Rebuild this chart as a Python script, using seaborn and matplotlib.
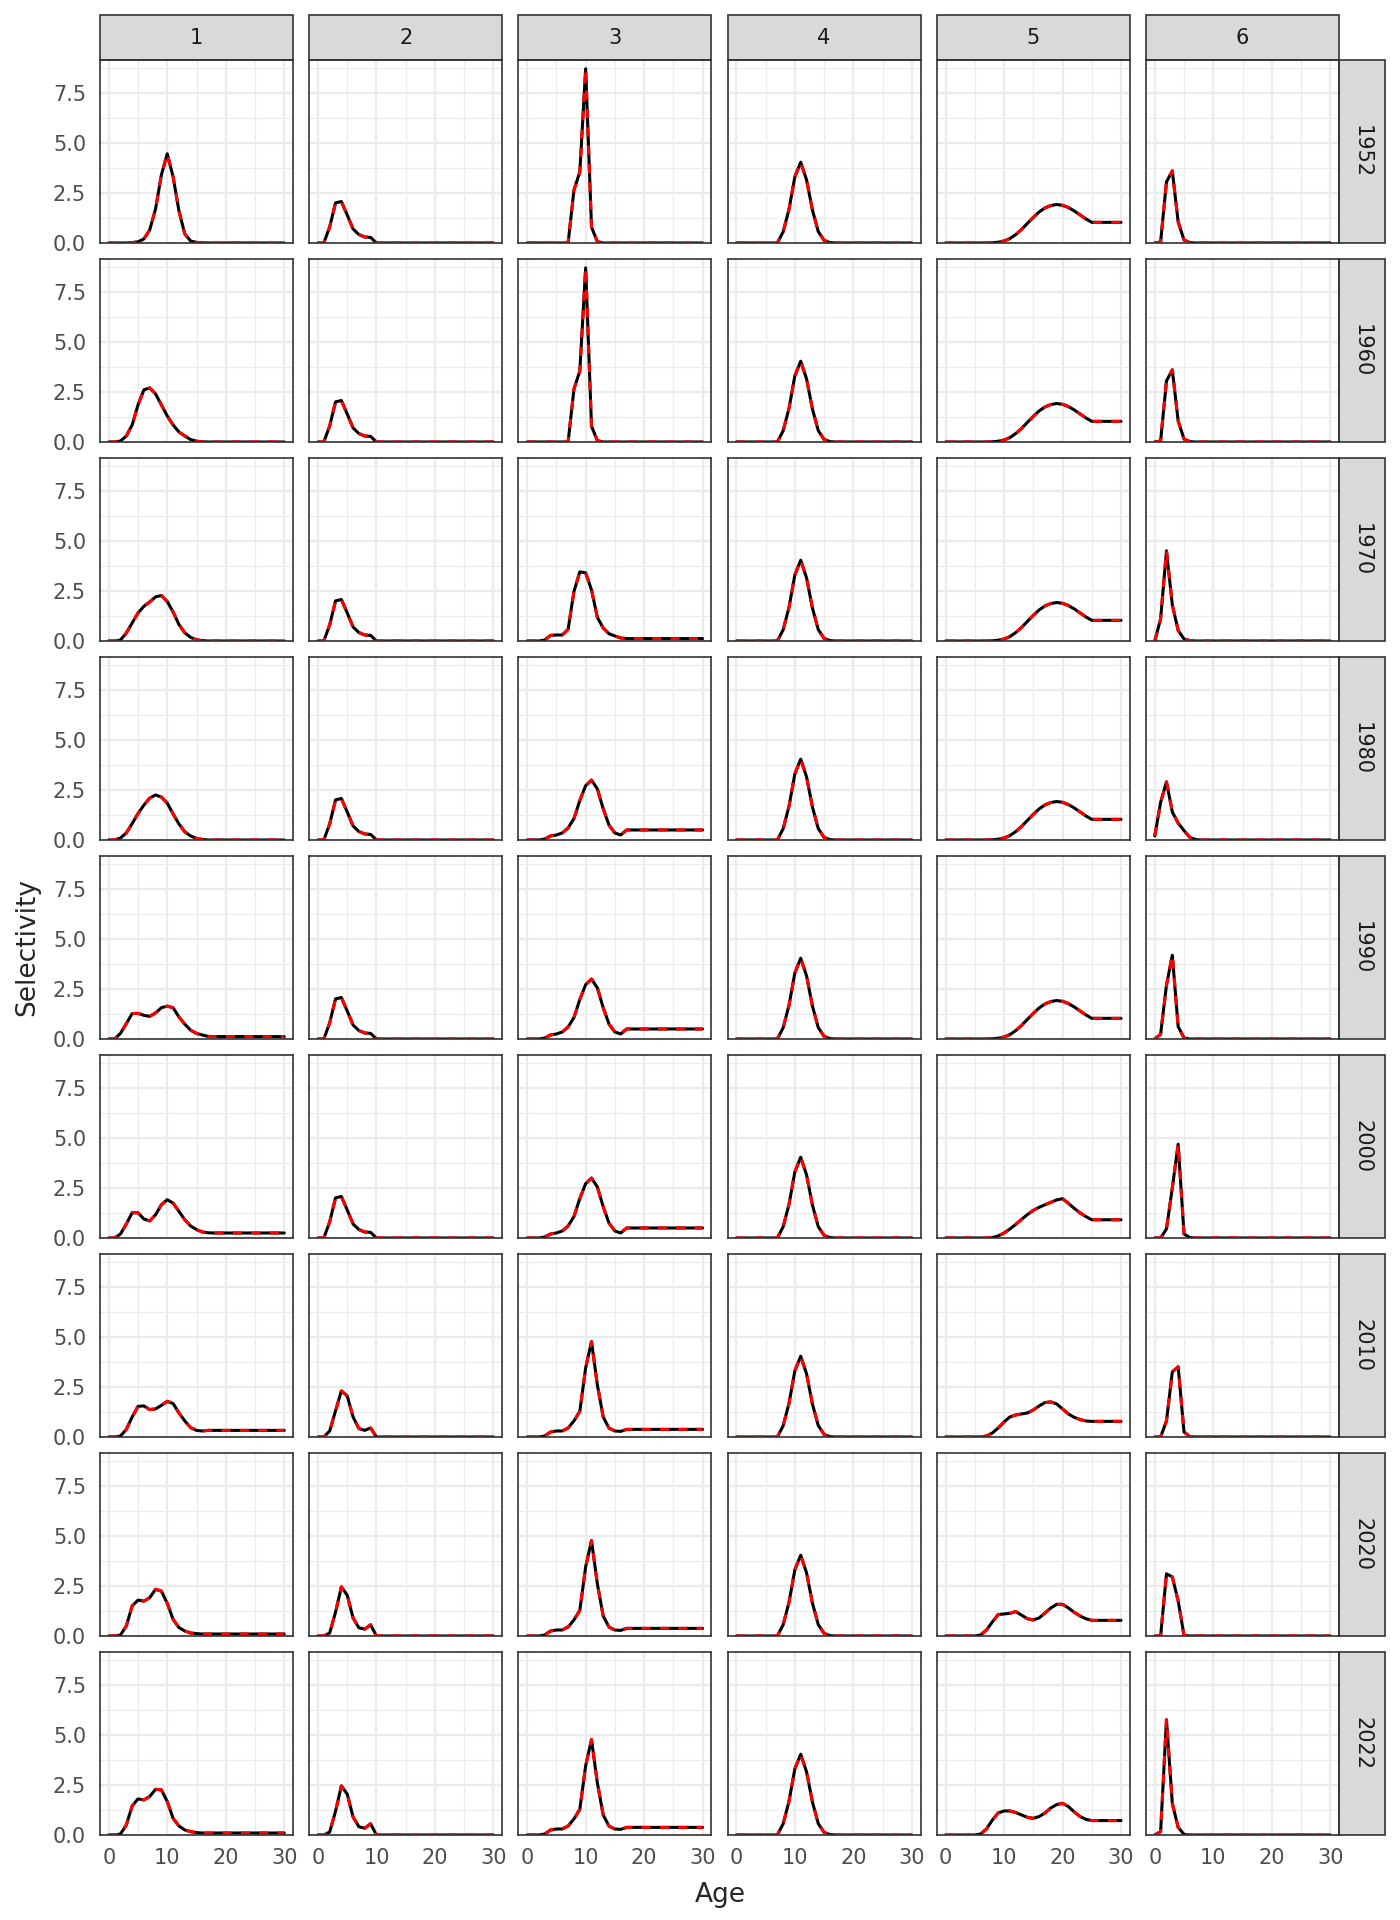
import pandas as pd
import matplotlib.pyplot as plt
import seaborn as sns
from matplotlib.patches import Rectangle
from matplotlib.ticker import MultipleLocator

# ages and facets
ages = list(range(0, 31))
years = [1952, 1960, 1970, 1980, 1990, 2000, 2010, 2020, 2022]
fleets = [1, 2, 3, 4, 5, 6]

# fleet 1 selectivity by year
f1_1952 = [0, 0, 0, 0, 0.02, 0.06, 0.2, 0.65, 1.7, 3.4, 4.45, 3.3, 1.6, 0.45, 0.1, 0.03,
           0.01, 0, 0, 0, 0, 0, 0, 0, 0, 0, 0, 0, 0, 0, 0]
f1_1960 = [0, 0, 0.05, 0.3, 0.85, 1.85, 2.6, 2.7, 2.4, 1.85, 1.3, 0.85, 0.5, 0.3, 0.12, 0.04,
           0.01, 0, 0, 0, 0, 0, 0, 0, 0, 0, 0, 0, 0, 0, 0]
f1_1970 = [0, 0, 0.05, 0.4, 0.9, 1.4, 1.73, 1.95, 2.2, 2.27, 1.97, 1.45, 0.82, 0.41, 0.18, 0.06,
           0.02, 0, 0, 0, 0, 0, 0, 0, 0, 0, 0, 0, 0, 0, 0]
f1_1980 = [0, 0, 0.1, 0.35, 0.82, 1.32, 1.74, 2.09, 2.25, 2.14, 1.84, 1.3, 0.8, 0.41, 0.2, 0.08,
           0.03, 0, 0, 0, 0, 0, 0, 0, 0, 0, 0, 0, 0, 0, 0]
f1_1990 = [0, 0, 0.28, 0.77, 1.27, 1.28, 1.18, 1.13, 1.3, 1.56, 1.64, 1.56, 1.1, 0.74, 0.44, 0.28,
           0.2, 0.13, 0.12, 0.12, 0.12, 0.12, 0.12, 0.12, 0.12, 0.12, 0.12, 0.12, 0.12, 0.12, 0.12]
f1_2000 = [0, 0, 0.2, 0.7, 1.26, 1.26, 0.95, 0.85, 1.16, 1.66, 1.91, 1.74, 1.33, 0.91, 0.6, 0.42,
           0.3, 0.26, 0.25, 0.25, 0.25, 0.25, 0.25, 0.25, 0.25, 0.25, 0.25, 0.25, 0.25, 0.25, 0.25]
f1_2010 = [0, 0, 0.05, 0.38, 1.0, 1.53, 1.55, 1.37, 1.4, 1.58, 1.78, 1.67, 1.2, 0.8, 0.47, 0.33,
           0.3, 0.33, 0.33, 0.33, 0.33, 0.33, 0.33, 0.33, 0.33, 0.33, 0.33, 0.33, 0.33, 0.33, 0.33]
f1_2020 = [0, 0, 0.05, 0.5, 1.5, 1.79, 1.74, 1.91, 2.33, 2.24, 1.63, 0.83, 0.42, 0.25, 0.15, 0.12,
           0.1, 0.1, 0.1, 0.1, 0.1, 0.1, 0.1, 0.1, 0.1, 0.1, 0.1, 0.1, 0.1, 0.1, 0.1]
f1_2022 = [0, 0, 0.05, 0.5, 1.45, 1.8, 1.75, 1.92, 2.28, 2.25, 1.67, 0.83, 0.45, 0.25, 0.17, 0.12,
           0.1, 0.1, 0.1, 0.1, 0.1, 0.1, 0.1, 0.1, 0.1, 0.1, 0.1, 0.1, 0.1, 0.1, 0.1]

# fleet 2
f2_early = [0, 0, 0.8, 2.0, 2.07, 1.4, 0.7, 0.42, 0.3, 0.28, 0, 0, 0, 0, 0, 0,
            0, 0, 0, 0, 0, 0, 0, 0, 0, 0, 0, 0, 0, 0, 0]
f2_2010 = [0, 0, 0.3, 1.3, 2.3, 2.05, 1.0, 0.42, 0.33, 0.45, 0, 0, 0, 0, 0, 0,
           0, 0, 0, 0, 0, 0, 0, 0, 0, 0, 0, 0, 0, 0, 0]
f2_late = [0, 0, 0.15, 1.18, 2.45, 2.04, 0.9, 0.41, 0.34, 0.56, 0, 0, 0, 0, 0, 0,
           0, 0, 0, 0, 0, 0, 0, 0, 0, 0, 0, 0, 0, 0, 0]

# fleet 3
f3_early = [0, 0, 0, 0, 0, 0, 0, 0, 2.64, 3.54, 8.69, 0.79, 0.07, 0, 0, 0,
            0, 0, 0, 0, 0, 0, 0, 0, 0, 0, 0, 0, 0, 0, 0]
f3_1970 = [0, 0, 0, 0.05, 0.28, 0.3, 0.3, 0.58, 2.47, 3.45, 3.4, 2.55, 1.18, 0.65, 0.36, 0.25,
           0.15, 0.12, 0.12, 0.12, 0.12, 0.12, 0.12, 0.12, 0.12, 0.12, 0.12, 0.12, 0.12, 0.12, 0.12]
f3_mid = [0, 0, 0, 0.05, 0.2, 0.25, 0.35, 0.6, 1.07, 1.97, 2.71, 2.99, 2.55, 1.56, 0.74, 0.35,
          0.25, 0.5, 0.5, 0.5, 0.5, 0.5, 0.5, 0.5, 0.5, 0.5, 0.5, 0.5, 0.5, 0.5, 0.5]
f3_late = [0, 0, 0, 0.05, 0.25, 0.3, 0.3, 0.45, 0.8, 1.28, 3.45, 4.76, 2.6, 1.0, 0.44, 0.3,
           0.28, 0.38, 0.38, 0.38, 0.38, 0.38, 0.38, 0.38, 0.38, 0.38, 0.38, 0.38, 0.38, 0.38, 0.38]

# fleet 4 (same in every year)
f4_all = [0, 0, 0, 0, 0, 0, 0, 0, 0.56, 1.68, 3.3, 4.03, 3.15, 1.65, 0.57, 0.13,
          0.02, 0, 0, 0, 0, 0, 0, 0, 0, 0, 0, 0, 0, 0, 0]

# fleet 5
f5_early = [0, 0, 0, 0, 0, 0, 0, 0, 0.01, 0.04, 0.1, 0.22, 0.42, 0.68, 0.98, 1.28,
            1.55, 1.75, 1.87, 1.92, 1.88, 1.77, 1.6, 1.4, 1.2, 1.03, 1.03, 1.03, 1.03, 1.03, 1.03]
f5_2000 = [0, 0, 0, 0, 0, 0, 0, 0, 0.02, 0.1, 0.25, 0.45, 0.68, 0.93, 1.17, 1.38,
           1.53, 1.66, 1.78, 1.9, 1.96, 1.73, 1.48, 1.25, 1.07, 0.91, 0.91, 0.91, 0.91, 0.91, 0.91]
f5_2010 = [0, 0, 0, 0, 0, 0, 0, 0.05, 0.2, 0.45, 0.75, 1.0, 1.1, 1.15, 1.2, 1.35,
           1.55, 1.72, 1.75, 1.65, 1.4, 1.15, 0.98, 0.87, 0.8, 0.78, 0.78, 0.78, 0.78, 0.78, 0.78]
f5_2020 = [0, 0, 0, 0, 0, 0, 0.05, 0.3, 0.7, 1.07, 1.1, 1.13, 1.22, 1.04, 0.86, 0.8,
           0.9, 1.15, 1.4, 1.58, 1.58, 1.4, 1.18, 1.0, 0.86, 0.78, 0.78, 0.78, 0.78, 0.78, 0.78]
f5_2022 = [0, 0, 0, 0, 0, 0, 0.05, 0.3, 0.75, 1.1, 1.2, 1.2, 1.12, 1.0, 0.88, 0.83,
           0.92, 1.1, 1.35, 1.52, 1.58, 1.42, 1.15, 0.92, 0.78, 0.72, 0.72, 0.72, 0.72, 0.72, 0.72]

# fleet 6
f6_early = [0, 0.05, 3.05, 3.6, 1.05, 0.15, 0.02, 0, 0, 0, 0, 0, 0, 0, 0, 0,
            0, 0, 0, 0, 0, 0, 0, 0, 0, 0, 0, 0, 0, 0, 0]
f6_1970 = [0, 1.1, 4.5, 1.8, 0.53, 0.1, 0.02, 0, 0, 0, 0, 0, 0, 0, 0, 0,
           0, 0, 0, 0, 0, 0, 0, 0, 0, 0, 0, 0, 0, 0, 0]
f6_1980 = [0.2, 1.88, 2.9, 1.4, 0.84, 0.47, 0.13, 0.02, 0, 0, 0, 0, 0, 0, 0, 0,
           0, 0, 0, 0, 0, 0, 0, 0, 0, 0, 0, 0, 0, 0, 0]
f6_1990 = [0, 0.24, 2.68, 4.18, 0.62, 0.05, 0, 0, 0, 0, 0, 0, 0, 0, 0, 0,
           0, 0, 0, 0, 0, 0, 0, 0, 0, 0, 0, 0, 0, 0, 0]
f6_2000 = [0, 0, 0.45, 2.5, 4.68, 0.2, 0.02, 0, 0, 0, 0, 0, 0, 0, 0, 0,
           0, 0, 0, 0, 0, 0, 0, 0, 0, 0, 0, 0, 0, 0, 0]
f6_2010 = [0, 0, 0.8, 3.25, 3.5, 0.25, 0.02, 0, 0, 0, 0, 0, 0, 0, 0, 0,
           0, 0, 0, 0, 0, 0, 0, 0, 0, 0, 0, 0, 0, 0, 0]
f6_2020 = [0, 0, 3.1, 2.95, 1.75, 0.03, 0, 0, 0, 0, 0, 0, 0, 0, 0, 0,
           0, 0, 0, 0, 0, 0, 0, 0, 0, 0, 0, 0, 0, 0, 0]
f6_2022 = [0, 0.17, 5.75, 1.58, 0.38, 0.03, 0, 0, 0, 0, 0, 0, 0, 0, 0, 0,
           0, 0, 0, 0, 0, 0, 0, 0, 0, 0, 0, 0, 0, 0, 0]

# which curve sits in which panel (one list per fleet, in year order)
fleet1_by_year = [f1_1952, f1_1960, f1_1970, f1_1980, f1_1990, f1_2000, f1_2010, f1_2020, f1_2022]
fleet2_by_year = [f2_early] * 6 + [f2_2010, f2_late, f2_late]
fleet3_by_year = [f3_early, f3_early, f3_1970, f3_mid, f3_mid, f3_mid, f3_late, f3_late, f3_late]
fleet4_by_year = [f4_all] * 9
fleet5_by_year = [f5_early] * 5 + [f5_2000, f5_2010, f5_2020, f5_2022]
fleet6_by_year = [f6_early, f6_early, f6_1970, f6_1980, f6_1990, f6_2000, f6_2010, f6_2020, f6_2022]
by_fleet = [fleet1_by_year, fleet2_by_year, fleet3_by_year,
            fleet4_by_year, fleet5_by_year, fleet6_by_year]

rows = []
for fl, curves in zip(fleets, by_fleet):
    for yr, vals in zip(years, curves):
        for a, v in zip(ages, vals):
            rows.append((fl, yr, a, v))
df = pd.DataFrame(rows, columns=["fleet", "year", "Age", "Selectivity"])

sns.set_style("white")
plt.rcParams["font.family"] = ["DejaVu Sans"]

W, H = 1400, 1920
fig, axes = plt.subplots(len(years), len(fleets), figsize=(W / 200, H / 200), dpi=200,
                         sharex=True, sharey=True)
fig.subplots_adjust(left=100 / W, right=1339 / W, top=1 - 60 / H, bottom=1 - 1835 / H,
                    wspace=16.2 / 193, hspace=16 / 183)

border = "#333333"
strip_h = 45 / 183
strip_w = 46 / 193

for i, yr in enumerate(years):
    for j, fl in enumerate(fleets):
        ax = axes[i, j]
        sub = df[(df["year"] == yr) & (df["fleet"] == fl)]
        sns.lineplot(data=sub, x="Age", y="Selectivity", color="black", lw=1.1, ax=ax)
        sns.lineplot(data=sub, x="Age", y="Selectivity", color="red", lw=1.1,
                     linestyle=(0, (3, 3)), ax=ax)
        ax.set_xlim(-1.5, 31.5)
        ax.set_ylim(0, 9.13)
        ax.xaxis.set_major_locator(MultipleLocator(10))
        ax.xaxis.set_minor_locator(MultipleLocator(5))
        ax.yaxis.set_major_locator(MultipleLocator(2.5))
        ax.yaxis.set_minor_locator(MultipleLocator(1.25))
        ax.grid(which="major", color="#EBEBEB", lw=0.8)
        ax.grid(which="minor", color="#EBEBEB", lw=0.4)
        ax.set_axisbelow(True)
        for s in ax.spines.values():
            s.set_color(border)
            s.set_linewidth(0.6)
        ax.set_xlabel("")
        ax.set_ylabel("")
        ax.tick_params(which="minor", length=0)
        ax.tick_params(axis="x", which="major", length=2.5 if i == len(years) - 1 else 0,
                       width=0.6, color=border, labelcolor="#4D4D4D", labelsize=7.5, pad=2)
        ax.tick_params(axis="y", which="major", length=2.5 if j == 0 else 0,
                       width=0.6, color=border, labelcolor="#4D4D4D", labelsize=7.5, pad=2.5)
        if j == 0:
            ax.set_yticks([0, 2.5, 5, 7.5])
            ax.set_yticklabels(["0.0", "2.5", "5.0", "7.5"])
        if i == 0:
            ax.add_patch(Rectangle((0, 1), 1, strip_h, transform=ax.transAxes, clip_on=False,
                                   facecolor="#D9D9D9", edgecolor=border, lw=0.6))
            ax.text(0.5, 1 + strip_h / 2, str(fl), transform=ax.transAxes, ha="center",
                    va="center", fontsize=7.5, color="#1A1A1A")
        if j == len(fleets) - 1:
            ax.add_patch(Rectangle((1, 0), strip_w, 1, transform=ax.transAxes, clip_on=False,
                                   facecolor="#D9D9D9", edgecolor=border, lw=0.6))
            ax.text(1 + strip_w / 2, 0.5, str(yr), transform=ax.transAxes, ha="center",
                    va="center", rotation=270, fontsize=7.5, color="#1A1A1A")

fig.text(720 / W, 1 - 1895 / H, "Age", ha="center", va="center", fontsize=9.5)
fig.text(27 / W, 1 - 947 / H, "Selectivity", ha="center", va="center", rotation=90, fontsize=9.5)

fig.savefig("out.png", dpi=200)
